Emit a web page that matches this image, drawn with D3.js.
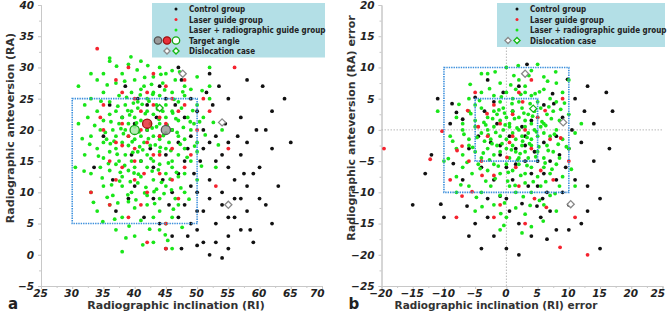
<!DOCTYPE html>
<html>
<head>
<meta charset="utf-8">
<script src="https://cdn.jsdelivr.net/npm/d3@7"></script>
<style>
	body { margin: 0; background: #fff; }
	text { font-family: 'DejaVu Sans', Verdana, sans-serif; }
	.tick-label { font-weight: bold; font-style: italic; font-size: 10.5px; fill: #222; }
	.axis-title { font-weight: bold; font-size: 11px; fill: #333; }
	.panel-tag { font-weight: bold; font-size: 15px; fill: #222; }
	.legend-text { font-family: 'DejaVu Sans Condensed', 'DejaVu Sans', sans-serif; font-weight: bold; font-size: 8px; fill: #222; }
</style>
</head>
<body>
<svg id="chart" width="667" height="321"></svg>
<script>
// NOTE panel a data (degrees)
const ctrlA = [[33.5,14],[35,19],[36,24],[36.5,12],[37,7],[38,22],[38.5,27],[39,9],[39.5,16],[40,11],[40.5,25],[41,15],[41.5,6],[42,24],[42.5,17],[43,9],[43,14],[43.5,22],[44,27],[44,5],[44.5,12],[45,25],[45,16],[45.5,8],[46,3],[46,10],[46.5,24],[47,6],[47,13],[47,18],[47.5,28],[47.5,1],[48,8],[48,15],[48,22],[48.5,3],[48.5,17],[49,5],[49,11],[49,19],[49,25],[49.5,13],[50,4],[50,7],[50,10],[50,23],[50.5,15],[51,2],[51,7],[51,17],[51,20],[51.5,26],[52,0],[52,9],[52,12],[52,18],[52.5,24],[53,2],[53,5],[53,15],[53,19],[53.5,27],[54,-0.5],[54,8],[54,10],[54,16],[54.5,21],[55,3],[55,6],[55,14],[55,18],[55,25],[56,6],[56,9],[56,12],[56.5,19],[57,4],[57,9],[57,16],[57,22],[57.5,13],[58,7],[58,11],[58,18],[58,28],[58.5,4],[59,2],[59,13],[59.5,20],[60,9],[60,14],[60.5,27],[61,8],[61,20],[62,5],[62,17],[62,23],[63,11],[64,25],[65,18],[46,20],[44,19],[42,20],[40,21],[47,30],[52,29],[55,1],[50,1.5],[45,1]];

const laserA = [[33,10],[34,33],[34.5,22],[35,20],[35,24],[36,8],[36,15],[37,12],[37,18],[37,28],[38,14],[38,21],[38,26],[39,6],[39,19],[39,30],[40,12],[40,15],[40,17],[40,25],[41,8],[41,20],[41,23],[42,2],[42,10],[42,18],[42,26],[43,16],[43,24],[43,29],[44,13],[44,16],[44,19],[44,22],[45,1],[45,5],[45,21],[45,27],[46,12],[46,17],[46,25],[47,9],[47,23],[48,14],[48,24],[48,28],[49,16],[50,20],[51,25],[52,23],[53,11],[55,17],[56,30],[38,17.5],[41.5,13]];

const comboA = [[36,31.5],[39,30.5],[41,31],[44,30],[46,29.5],[33,29],
	[34,28],[37,27.5],[38,29],[40,28],[41.5,27],[43,28.5],[44.5,27.5],[45,29],[46.5,28],[48,27],[50,28.5],[52,27],
	[33,25],[35,26],[36,24.5],[37.5,25.5],[38.5,24],[39.5,26],[40.5,24.5],[41,26.5],[42,25],[43,26],[43.5,24],[44,25.5],[45,24],[46,26],[47,24.5],[48,25.5],[49,26.5],[50,24],[52,25],[32,24],
	[32.5,22],[34,23],[35,21.5],[36,22.5],[37,23],[38,22],[39,21],[39.5,23],[40,22],[40.5,23.5],[41,21.5],[42,23],[42.5,21],[43,22.5],[44,21],[44.5,23],[45,22],[46,23],[47,21.5],[47.5,23.5],[48.5,22],[49.5,21],[51,22],[31,21],
	[33,19],[34.5,20],[35.5,18.5],[36.5,20],[37,19],[37.5,21],[38,18],[38.5,20],[39,19],[40,18.5],[40,20.5],[41,19],[41.5,18],[42,20],[43,19],[43.5,20.5],[44,18.5],[45,19.5],[45.5,18],[46,20],[47,19],[48,18.5],[49,20],[50,18],[35,18],
	[32,16],[34,17],[35,15.5],[36,16.5],[37,17],[37.5,15],[38.5,16],[39,17.5],[39.5,15],[40.5,16.5],[41,15],[42,16],[42.5,17.5],[43,15],[44,16.5],[45,17],[46,15],[47,16],[48,17],[49,15],[50,16.5],
	[33,13],[34.5,14],[36,13.5],[37,14.5],[38,12.5],[39,13.5],[40,14],[41,12.5],[42,14],[43,12],[44,14.5],[45,13],[46,14],[47,12.5],[48,13],[50,12],
	[33,10],[35,11],[36.5,9.5],[38,11],[39.5,10],[40.5,11.5],[42,9.5],[43.5,10.5],[45,11],[46.5,9],[48,10],[44,9],
	[34,7],[36,8],[38,6],[40,7.5],[41,5.5],[42,8],[43,6],[44,7],[46,6],[47,8],[39,8.5],[45,5],
	[37,4],[40,3],[43,2],[46,1],[38,0.5],[44,4],
	[31,27],[30.5,14],[52,30],[54,20],[53,14],[36,31],[35,29],
	[37.3,23.8],[38.7,25.2],[39.8,24.3],[40.9,25.6],[42.3,24.6],[43.7,23.3],[44.8,26.4],[46.3,24.9],[47.7,26.1],[36.2,21.3],[37.8,20.2],[39.2,22.4],[40.3,21.1],[41.7,22.6],[42.8,20.3],[43.9,21.7],[45.2,20.8],[46.6,21.8],[47.8,20.4],[35.3,19.6],[36.7,18.2],[38.2,19.4],[39.6,18.1],[40.7,19.7],[42.2,18.6],[43.3,17.6],[44.6,19.1],[45.8,16.7],[47.3,17.7],[34.2,15.8],[35.8,14.6],[37.2,16.1],[38.4,14.3],[39.7,16.4],[41.3,16.8],[42.6,15.4],[43.8,13.6],[45.4,14.7],[46.7,13.2],[48.4,15.6],[34.8,12.3],[36.3,11.2],[37.7,13.2],[39.3,11.7],[40.6,12.9],[41.8,10.8],[42.8,13.4],[44.3,11.6],[45.7,12.1],[47.4,10.7],[35.6,9.2],[37.3,8.3],[38.9,9.6],[40.2,8.8],[41.6,9.9],[43.2,8.2],[44.7,9.8],[46.2,7.3],[48.7,8.9],[36.8,5.7],[39.1,4.6],[42.4,4.1],[44.9,3.2],[47.6,4.4],[38.4,27.8],[40.4,29.6],[42.7,27.3],[44.2,28.9],[47.2,29.3],[35.6,27.2],[39.4,31.7],[42.1,30.3],[37.1,30.2],[49.3,23.1],[50.4,21.3],[51.3,19.2],[49.6,17.4],[50.7,14.2],[33.6,20.7],[32.8,17.7],[31.9,13.4],[33.4,8.4],[34.9,5.3],[38.6,2.7],[41.3,1.6],[45.3,2.3],[46.8,19.6],[41.2,24.1],[38.9,23.1],[44.1,17.2],[36.1,17.8],[39.9,13.1],[43.1,10.1],[41.6,28.4],[46.1,22.7],[40.8,17.3],[42.9,25.7],[48.9,21.3],[34.6,24.6],[37.6,11.8],[45.9,10.4],[31.6,18.6],[50.8,26.3],[52.6,21.2],[53.4,17.6]];

// target angles: [RI, RA, group]
const targetsA = [[45,20,'ctrl'],[42,21,'laser'],[40,20,'combo']];
const dislocA = [[47.7,29,'ctrl'],[54,21.2,'ctrl'],[55,8,'ctrl'],[44,23.5,'combo']];

// NOTE panel b data (error = measured - target)
const ctrlB = [[-15,-12],[-12,-4],[-11,5],[-10.5,-11.9],[-9,1],[-8.7,4.2],[-8.5,-5.4],[-8,2.8],[-7,1.7],[-7,-8],[-6.3,-12.2],[-6,-3],[-5,5.2],[-5,-15],[-4.5,-1],[-4,-6],[-3.5,3],[-3,-11],[-3,8],[-2.5,-2],[-2,-8],[-2,-17],[-1.5,1],[-1,-4],[-1,-10.6],[-0.5,6],[0,-19],[0,-6],[0.5,-1],[0.5,-13],[1,3],[1,-8],[1.5,-3],[2,-15],[2,7],[2.5,-11.8],[3,-5],[3,-1],[3.3,10.5],[3.5,-9],[4,-7],[4,1.5],[4.5,-3.5],[4.9,-12.2],[5,-5],[5,-9],[5.5,-14],[5.8,-11],[6,-7],[6,-2],[6,4],[6.5,-10],[7,-5],[7,-13],[7.4,5.8],[7.6,4.2],[8,-8],[8,-1],[8,-16],[8.5,-4],[9,-10],[9,2],[9.5,-6],[9.8,8.1],[10,-12],[10,-3],[10.5,0],[11,-8],[11,5],[12,-2],[12,-15],[12.5,3],[13,-9],[13,7],[14,-5],[14,1],[15,-19],[15,-11],[16,6],[16.5,-3],[17,3],[-13,-7],[-10,-14],[-4,-19],[2,-20],[-6,-17],[4,-17],[-2,4.5],[1.5,-5.5],[3,-2.5],[-1,-2.5],[2.5,0.5],[0,-11],[-3,-14],[6.5,-17.5],[10,-16],[13,-13]];

const laserB = [[-19.6,-3],[-12.2,-4.7],[-10.3,-0.2],[-9,-8],[-8,-14],[-7.9,-3.3],[-7.1,-2.6],[-7.1,-10.6],[-6.2,3.1],[-5.5,-9.9],[-5,6],[-4,-5],[-3.9,-7.3],[-3.1,2.6],[-3,-1],[-2,-7.3],[-2,4],[-1,1],[-1,-12],[0.1,-4.4],[0.5,-2],[1,2.5],[1.5,-6],[2,-9],[2.6,4.5],[3,0],[3,-15],[4,-3],[4.5,-11],[5,2],[5.5,-6.5],[6.2,3.1],[6.4,-12.4],[7,-1.5],[7.5,-8],[8.6,-18.8],[8.7,-1.3],[9,5],[10,-5],[11,-14],[13,-20],[-2,-14],[-6,-5],[1,-1],[2,6],[-4.5,0.5],[4,8]];

const comboB = [[-3,9],[0,10],[2,8],[4,9.5],[6,8.5],[-1,7.5],[3,7],[5,10.5],[8,7.5],
	[-6,5],[-4,6],[-2,5.5],[-1,4.5],[0,6],[1,5],[2,4.5],[3,6],[4,5.5],[5,4.5],[6,6.5],[7,5],[8,4.5],[9,6],[-5,4],[1.5,6.5],
	[-8,2],[-6,3],[-5,1.5],[-4,3.5],[-3,2],[-2,3],[-1,1.5],[-0.5,3.5],[0,2],[0.5,1],[1,3],[2,2],[2.5,3.5],[3,1.5],[3.5,2.5],[4,1],[4.5,3],[5,2],[5.5,3.5],[6,1],[6.5,2.5],[7.5,3],[8.5,1.5],[10,2.5],[-7,1],[-1.5,2.5],
	[-9,-1],[-7,0],[-6,-1.5],[-5,0.5],[-4,-0.5],[-3,0],[-2.5,-1.5],[-2,0.5],[-1,-1],[-0.5,0],[0,-1.5],[0.5,0.5],[1,-0.5],[1.5,-1.5],[2,0],[2.5,-1],[3,0.5],[3.5,-0.5],[4,-1.5],[4.5,0],[5,-1],[5.5,0.5],[6,-0.5],[7,-1],[8,0],[9,-1.5],[11,-0.5],[-3.5,-1.8],
	[-8,-3],[-7,-4],[-6,-2.5],[-5,-3.5],[-4,-4.5],[-3,-3],[-2,-4],[-1.5,-2.5],[-1,-3.5],[0,-3],[0.5,-4.5],[1,-2.5],[1.5,-3.5],[2,-4.5],[2.5,-2.5],[3,-3.5],[3.5,-4.5],[4,-2.5],[5,-3.5],[6,-4.5],[6.5,-2.5],[7.5,-3.5],[8.5,-4.5],[10,-3],
	[-7,-6],[-5.5,-7],[-4.5,-5.5],[-3,-6.5],[-2,-5.5],[-1,-7],[0,-5.5],[1,-6.5],[2,-5.5],[3,-7],[4,-6],[5,-7.5],[6,-6],[7,-7],[8,-5.5],[9,-7.5],[-8,-7.5],
	[-6,-9],[-4,-10],[-2.5,-9],[-1,-10.5],[0.5,-9],[1.5,-10],[3,-8.5],[4,-10],[5.5,-9],[7,-10.5],[8.5,-9],[-8,-10],
	[-5,-13],[-2,-12],[0,-14],[1.5,-12.5],[3,-13.5],[4,-15.5],[6,-12],[8,-13],[-1,-16],[2.5,-16.5],
	[-11,3],[-10,-5],[12,1],[11,-9],[-4,9],[10,8],
	[-4.3,4.7],[-2.7,6.6],[-0.8,5.3],[0.7,7.2],[2.3,5.7],[3.8,4.2],[5.3,6.1],[6.8,3.7],[-5.7,2.6],[-3.6,1.2],[-2.2,1.8],[-0.3,2.7],[1.3,1.8],[2.8,2.7],[4.2,2.2],[5.7,1.3],[7.2,1.8],[8.7,3.3],[-6.8,-0.7],[-4.7,-1.2],[-3.3,0.8],[-1.7,-0.4],[-0.2,0.8],[1.7,0.3],[3.3,-1.2],[4.8,-0.3],[6.3,0.7],[7.7,-0.7],[-5.4,-2.8],[-3.7,-3.7],[-2.3,-2.2],[-0.7,-2.2],[0.8,-3.2],[2.2,-3.8],[3.7,-2.2],[5.2,-2.7],[6.7,-3.3],[8.3,-2.3],[-6.3,-5.2],[-4.2,-6.2],[-2.7,-4.8],[-1.3,-5.8],[0.3,-6.8],[1.8,-4.8],[3.3,-5.7],[4.7,-4.3],[6.2,-5.3],[7.3,-6.3],[-3.3,-8.2],[-1.8,-7.8],[0.2,-8.2],[2.3,-7.3],[4.3,-8.3],[6.3,-8.3],[-4.8,-10.8],[-0.3,-11.7],[2.7,-10.7],[5.3,-11.3],[1.2,8.7],[-1.8,9.3],[3.6,8.7],[6.6,7.8],[9.3,4.3],[9.6,-2.7],[10.4,-6.3],[-7.6,4.1],[-8.6,-1.8],[-9.3,-4.6],[-7.3,-8.8],[0.9,4.2],[-1.2,3.2],[2.6,-1.8],[-2.9,-0.8],[1.4,-8.9],[4.6,5.8],[-0.9,-13.4],[3.8,-12.1],[7.8,-10.2],[-3.9,-12.3],[5.9,-14.6],[-5.8,7.3],[1.9,10.3],[7.9,9.3],[-0.4,-15.3]];

const dislocB = [[3,9,'ctrl'],[9.1,1.2,'ctrl'],[10.3,-11.9,'ctrl'],[4.3,3.4,'combo']];

// NOTE axes and reference boxes
const xTicksA = [25, 30, 35, 40, 45, 50, 55, 60, 65, 70];
const yTicksA = [-5, 0, 5, 10, 15, 20, 25, 30, 35, 40];
const xTicksB = [-20, -15, -10, -5, 0, 5, 10, 15, 20, 25];
const yTicksB = [-25, -20, -15, -10, -5, 0, 5, 10, 15, 20];
const boxesA = [[30, 50, 5, 25]];
const boxesB = [[-10, 10, -10, 10], [-5, 5, -5, 5]];

const legendA = ['Control group', 'Laser guide group', 'Laser + radiographic guide group', 'Target angle', 'Dislocation case'];
const legendB = ['Control group', 'Laser guide group', 'Laser + radiographic guide group', 'Dislocation case'];

const colors = { ctrl: '#111111', laser: '#f5232f', combo: '#19e619' };
const targetFill = { ctrl: '#9a9a9a', laser: '#e8303a', combo: '#a8e8a8' };
const targetStroke = { ctrl: '#555555', laser: '#a01010', combo: '#14a814' };
const diamondStroke = { ctrl: '#888888', combo: '#14b814' };

var svg = d3.select('#chart');

function diamond(g, x, y, s, stroke) {
	g.append('path')
		.attr('d', d3.symbol().type(d3.symbolDiamond2).size(s)())
		.attr('transform', 'translate(' + x + ',' + y + ')')
		.attr('fill', '#fff')
		.attr('stroke', stroke)
		.attr('stroke-width', 1.3);
}

function panel(opts) {
	var x = d3.scaleLinear().domain(opts.xDom).range(opts.xRange);
	var y = d3.scaleLinear().domain(opts.yDom).range([286, 5]);
	var g = svg.append('g');

	// minor ticks between majors
	var xMinor = opts.xTicks.slice(0, -1).map((t) => t + 2.5);
	var yMinor = opts.yTicks.slice(0, -1).map((t) => t + 2.5);

	var xAxis = g.append('g')
		.attr('transform', 'translate(0,' + y.range()[0] + ')')
		.call(d3.axisBottom(x).tickValues(opts.xTicks).tickSize(3).tickPadding(1).tickFormat(d3.format('d')));
	g.append('g')
		.attr('transform', 'translate(0,' + y.range()[0] + ')')
		.call(d3.axisBottom(x).tickValues(xMinor).tickSize(2).tickFormat(''));
	var yAxis = g.append('g')
		.attr('transform', 'translate(' + x.range()[0] + ',0)')
		.call(d3.axisLeft(y).tickValues(opts.yTicks).tickSize(3).tickPadding(4).tickFormat(d3.format('d')));
	g.append('g')
		.attr('transform', 'translate(' + x.range()[0] + ',0)')
		.call(d3.axisLeft(y).tickValues(yMinor).tickSize(2).tickFormat(''));

	g.selectAll('.domain').attr('stroke', '#c8c8c8');
	g.selectAll('.tick line').attr('stroke', '#c8c8c8');
	g.selectAll('.tick text').attr('class', 'tick-label');
	var lastX = opts.xTicks[opts.xTicks.length - 1];
	xAxis.selectAll('text').attr('dx', (d) => (d === lastX ? '-0.5em' : '-0.1em'));

	// zero reference lines
	if (opts.zeroLines) {
		g.append('line')
			.attr('x1', x.range()[0]).attr('x2', x.range()[1])
			.attr('y1', y(0)).attr('y2', y(0))
			.attr('stroke', '#b8b8b8').attr('stroke-dasharray', '1.5,1.5');
		g.append('line')
			.attr('x1', x(0)).attr('x2', x(0))
			.attr('y1', y.range()[0]).attr('y2', y.range()[1])
			.attr('stroke', '#b8b8b8').attr('stroke-dasharray', '1.5,1.5');
	}

	// points
	var groups = [['ctrl', opts.ctrl], ['combo', opts.combo], ['laser', opts.laser]];
	groups.forEach(function (gr) {
		g.append('g')
			.selectAll('circle')
			.data(gr[1])
			.enter()
			.append('circle')
			.attr('cx', (d) => x(d[0]))
			.attr('cy', (d) => y(d[1]))
			.attr('r', 1.9)
			.attr('fill', colors[gr[0]]);
	});

	// blue dotted boxes
	opts.boxes.forEach(function (b) {
		g.append('rect')
			.attr('x', x(b[0]))
			.attr('y', y(b[3]))
			.attr('width', x(b[1]) - x(b[0]))
			.attr('height', y(b[2]) - y(b[3]))
			.attr('fill', 'none')
			.attr('stroke', '#3b8fdc')
			.attr('stroke-width', 1.6)
			.attr('stroke-dasharray', '1.4,1');
	});

	if (opts.targets) {
		opts.targets.forEach(function (t) {
			g.append('circle')
				.attr('cx', x(t[0]))
				.attr('cy', y(t[1]))
				.attr('r', 4.6)
				.attr('fill', targetFill[t[2]])
				.attr('fill-opacity', 0.85)
				.attr('stroke', targetStroke[t[2]])
				.attr('stroke-width', 1.3);
		});
	}

	opts.disloc.forEach(function (d) {
		diamond(g, x(d[0]), y(d[1]), 32, diamondStroke[d[2]]);
	});

	// titles
	g.append('text')
		.attr('class', 'axis-title')
		.attr('x', opts.xTitleX)
		.attr('y', 309)
		.attr('text-anchor', 'middle')
		.style('font-size', opts.xTitleSize)
		.text(opts.xTitle);
	g.append('text')
		.attr('class', 'axis-title')
		.attr('transform', 'translate(' + (x.range()[0] - 27) + ',' + opts.yTitleY + ') rotate(-90)')
		.attr('text-anchor', 'middle')
		.text(opts.yTitle);
	g.append('text')
		.attr('class', 'panel-tag')
		.attr('x', x.range()[0] - 33)
		.attr('y', 309)
		.text(opts.tag);

	// legend
	var lg = g.append('g').attr('transform', 'translate(' + opts.legend.x + ',3)');
	var rowH = 10.5;
	lg.append('rect')
		.attr('width', opts.legend.w)
		.attr('height', opts.legend.items.length * rowH + 2)
		.attr('fill', '#b3dfe6');
	opts.legend.items.forEach(function (item, i) {
		var ry = 6 + i * rowH;
		var dotX = opts.legend.dotX;
		lg.append('text')
			.attr('class', 'legend-text')
			.attr('x', dotX + 13)
			.attr('y', ry + 3)
			.text(item);
		if (i < 3) {
			var key = ['ctrl', 'laser', 'combo'][i];
			lg.append('circle').attr('cx', dotX).attr('cy', ry).attr('r', 1.5).attr('fill', colors[key]);
		} else if (item === 'Target angle') {
			['ctrl', 'laser', 'combo'].forEach(function (k, j) {
				lg.append('circle')
					.attr('cx', dotX - 18 + j * 9)
					.attr('cy', ry)
					.attr('r', 3.7)
					.attr('fill', k === 'combo' ? '#fff' : targetFill[k])
					.attr('stroke', targetStroke[k])
					.attr('stroke-width', 1.3);
			});
		} else {
			diamond(lg, dotX - 9, ry, 24, diamondStroke.ctrl);
			diamond(lg, dotX, ry, 24, diamondStroke.combo);
		}
	});
}

panel({
	xDom: [25, 70], xRange: [41, 322], yDom: [-5, 40],
	xTicks: xTicksA, yTicks: yTicksA,
	ctrl: ctrlA, laser: laserA, combo: comboA,
	boxes: boxesA, targets: targetsA, disloc: dislocA,
	xTitle: 'Radiographic inclination (RI)', xTitleX: 176, xTitleSize: '11px',
	yTitle: 'Radiographic anteversion (RA)', yTitleY: 128,
	tag: 'a',
	legend: { x: 152, w: 173, dotX: 24, items: legendA },
});

panel({
	xDom: [-20, 25], xRange: [381.5, 662.5], yDom: [-25, 20],
	xTicks: xTicksB, yTicks: yTicksB,
	ctrl: ctrlB, laser: laserB, combo: comboB,
	boxes: boxesB, disloc: dislocB, zeroLines: true,
	xTitle: 'Radiographic inclination (RI) error', xTitleX: 496, xTitleSize: '10.5px',
	yTitle: 'Radiographic anteversion (RA) error', yTitleY: 128,
	tag: 'b',
	legend: { x: 497, w: 168, dotX: 20, items: legendB },
});
</script>
</body>
</html>
